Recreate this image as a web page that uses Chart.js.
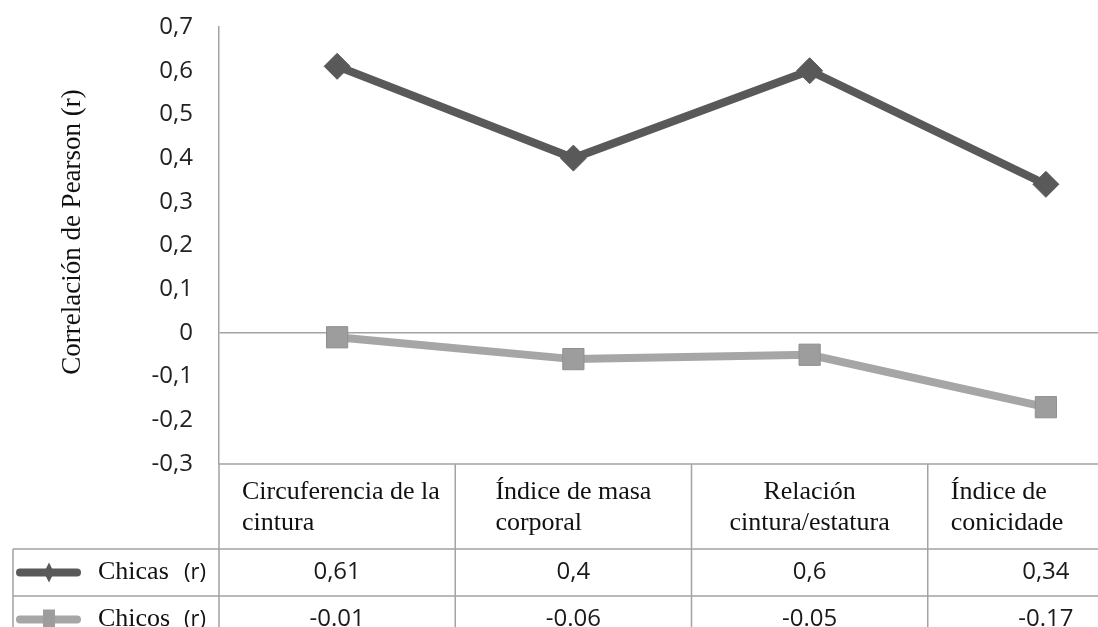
<!DOCTYPE html>
<html>
<head>
<meta charset="utf-8">
<script src="https://cdn.jsdelivr.net/npm/chart.js@4.4.1/dist/chart.umd.min.js"></script>
<style>
    html, body { margin: 0; padding: 0; background: #fff; overflow: hidden; }
    #wrap { width: 1180px; height: 660px; }
</style>
</head>
<body>
<div id="wrap"><canvas id="lineChart" width="1180" height="660"></canvas></div>
<script>
/* ======= Data ======= */
const categories = [
    ['Circuferencia de la', 'cintura'],
    ['Índice de masa', 'corporal'],
    ['Relación', 'cintura/estatura'],
    ['Índice de', 'conicidade']
];
const seriesNames = ['Chicas', 'Chicos'];
const chicasValues = [0.61, 0.4, 0.6, 0.34];
const chicosValues = [-0.01, -0.06, -0.05, -0.17];
const yTickValues = [0.7, 0.6, 0.5, 0.4, 0.3, 0.2, 0.1, 0, -0.1, -0.2, -0.3];
const yTitle = 'Correlación de Pearson (r)';

const DARK = '#595959';
const LIGHT = '#a6a6a6';
const RULE = '#a3a3a3';
const SERIF = '"Liberation Serif", "Times New Roman", serif';
const SANS = '"Open Sans", sans-serif';

// comma decimals for Chicas, dot decimals for Chicos (as in the source table)
const fmtComma = v => String(v).replace('.', ',');
const fmtDot = v => String(v);

/* ======= Data table under the plot + y title ======= */
const dataTable = {
    id: 'dataTable',
    afterDraw(chart) {
        const ctx = chart.ctx;
        const area = chart.chartArea;
        const xs = chart.scales.x;
        const half = (xs.getPixelForValue(1) - xs.getPixelForValue(0)) / 2;
        const top = area.bottom;
        const headBottom = top + 85;
        const rowH = 47;
        const legendLeft = 13;
        const right = chart.width;
        const bottom = headBottom + rowH * 2;

        ctx.save();
        ctx.strokeStyle = RULE;
        ctx.lineWidth = 1.5;
        ctx.beginPath();
        // header top (x axis line)
        ctx.moveTo(area.left, top); ctx.lineTo(right, top);
        // row lines
        ctx.moveTo(legendLeft, headBottom); ctx.lineTo(right, headBottom);
        ctx.moveTo(legendLeft, headBottom + rowH); ctx.lineTo(right, headBottom + rowH);
        ctx.moveTo(legendLeft, bottom); ctx.lineTo(right, bottom);
        // left border of legend cells
        ctx.moveTo(legendLeft, headBottom); ctx.lineTo(legendLeft, bottom);
        // column separators
        ctx.moveTo(area.left, top); ctx.lineTo(area.left, bottom);
        categories.forEach((c, i) => {
            const xr = xs.getPixelForValue(i) + half;
            ctx.moveTo(xr, top); ctx.lineTo(xr, bottom);
        });
        ctx.stroke();

        // header labels
        const align = ['left', 'block', 'center', 'left'];
        ctx.fillStyle = '#111';
        ctx.font = '26px ' + SERIF;
        ctx.textBaseline = 'alphabetic';
        categories.forEach((lines, i) => {
            const cx = xs.getPixelForValue(i);
            const colLeft = cx - half;
            const blockW = Math.max(...lines.map(l => ctx.measureText(l).width));
            lines.forEach((line, j) => {
                const y = top + 35 + j * 31;
                if (align[i] === 'center') {
                    ctx.textAlign = 'center';
                    ctx.fillText(line, cx, y);
                } else if (align[i] === 'block') {
                    ctx.textAlign = 'left';
                    ctx.fillText(line, cx - blockW / 2, y);
                } else {
                    ctx.textAlign = 'left';
                    ctx.fillText(line, colLeft + 23, y);
                }
            });
        });

        // value rows
        const rows = [
            { name: seriesNames[0], values: chicasValues, fmt: fmtComma, ds: chart.data.datasets[0] },
            { name: seriesNames[1], values: chicosValues, fmt: fmtDot, ds: chart.data.datasets[1] }
        ];
        rows.forEach((row, r) => {
            const cy = headBottom + rowH * r + rowH / 2;
            // legend key
            ctx.strokeStyle = row.ds.borderColor;
            ctx.lineWidth = 8;
            ctx.lineCap = 'round';
            ctx.beginPath();
            ctx.moveTo(20, cy); ctx.lineTo(77, cy);
            ctx.stroke();
            ctx.fillStyle = row.ds.pointBackgroundColor;
            ctx.beginPath();
            if (row.ds.pointStyle === 'rectRot') {
                ctx.moveTo(49, cy - 10); ctx.lineTo(54, cy); ctx.lineTo(49, cy + 10); ctx.lineTo(44, cy);
            } else {
                ctx.rect(43, cy - 10, 12, 20);
            }
            ctx.closePath();
            ctx.fill();
            // name
            ctx.fillStyle = '#111';
            ctx.textAlign = 'left';
            ctx.textBaseline = 'middle';
            ctx.font = '26px ' + SERIF;
            ctx.fillText(row.name, 98, cy);
            ctx.font = '22px ' + SANS;
            ctx.fillText('(r)', 184, cy);
            // values
            ctx.textAlign = 'center';
            ctx.font = '24px ' + SANS;
            ctx.fillStyle = '#1a1a1a';
            row.values.forEach((v, i) => {
                ctx.fillText(row.fmt(v), xs.getPixelForValue(i), cy);
            });
        });

        // y axis title
        ctx.translate(73, 232);
        ctx.rotate(-Math.PI / 2);
        ctx.font = '27px ' + SERIF;
        ctx.fillStyle = '#111';
        ctx.textAlign = 'center';
        ctx.textBaseline = 'middle';
        ctx.fillText(yTitle, 0, 0);
        ctx.restore();
    }
};

/* ======= Line chart ======= */
const ctx = document.getElementById('lineChart');
new Chart(ctx, {
    type: 'line',
    data: {
        labels: categories,
        datasets: [{
            label: seriesNames[0],
            data: chicasValues,
            borderColor: DARK,
            backgroundColor: DARK,
            pointBackgroundColor: DARK,
            pointBorderColor: DARK,
            borderWidth: 8,
            pointStyle: 'rectRot',
            pointRadius: 13,
            pointBorderWidth: 1,
            tension: 0,
            fill: false
        }, {
            label: seriesNames[1],
            data: chicosValues,
            borderColor: LIGHT,
            backgroundColor: LIGHT,
            pointBackgroundColor: '#9d9d9d',
            pointBorderColor: '#8f8f8f',
            borderWidth: 8,
            pointStyle: 'rect',
            pointRadius: 15,
            pointBorderWidth: 1,
            tension: 0,
            fill: false
        }]
    },
    options: {
        responsive: false,
        animation: false,
        layout: {
            padding: { left: 0, right: 5, top: 27, bottom: 196 }
        },
        plugins: {
            legend: { display: false },
            tooltip: { enabled: false }
        },
        scales: {
            x: {
                display: false,
                offset: true
            },
            y: {
                min: yTickValues[yTickValues.length - 1],
                max: yTickValues[0],
                afterFit(scale) {
                    scale.width = 219;
                    scale.paddingTop = 0;
                    scale.paddingBottom = 0;
                },
                afterBuildTicks(scale) {
                    scale.ticks = yTickValues.map(v => ({ value: v }));
                },
                grid: {
                    drawTicks: false,
                    lineWidth: 1.5,
                    color: c => (c.tick && c.tick.value === 0 ? RULE : 'transparent')
                },
                border: {
                    display: true,
                    color: RULE,
                    width: 1.5
                },
                ticks: {
                    padding: 26,
                    color: '#222',
                    font: { family: 'Open Sans', size: 24 },
                    callback: v => fmtComma(Math.round(v * 10) / 10)
                }
            }
        }
    },
    plugins: [dataTable]
});
</script>
</body>
</html>
